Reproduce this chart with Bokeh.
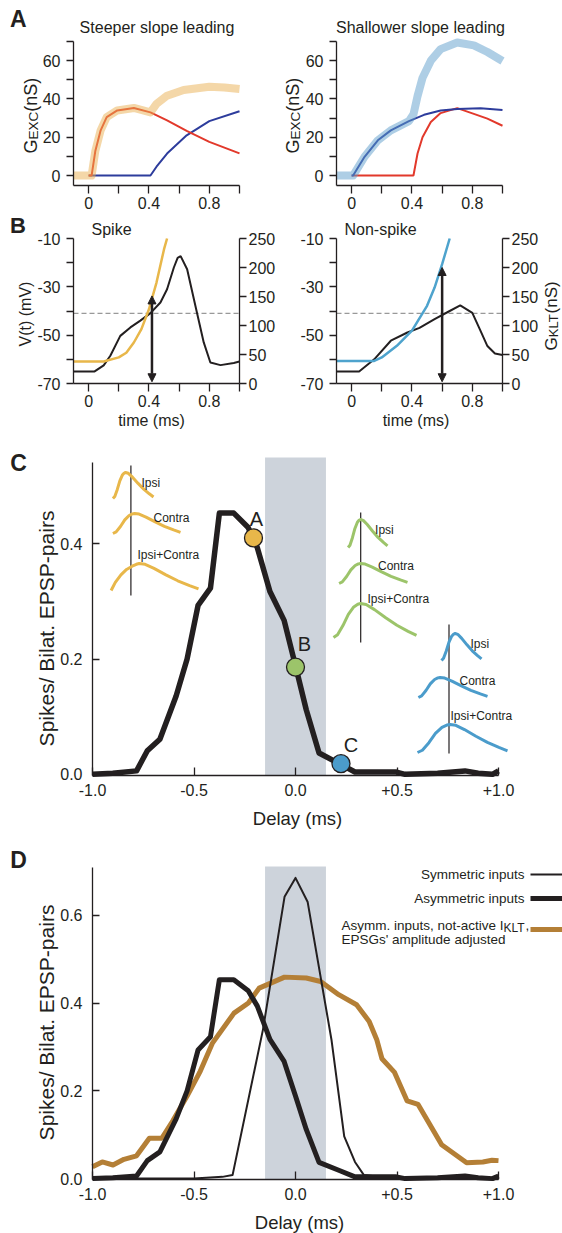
import math
from bokeh.plotting import figure
from bokeh.layouts import column, row
from bokeh.models import (Range1d, FixedTicker, CustomJSTickFormatter, LinearAxis, Label,
                          BoxAnnotation, Arrow, NormalHead)
from bokeh.embed import file_html
from bokeh.resources import INLINE

FONT = "Liberation Sans"
INK = "#231f20"

# ---------------- data ----------------
# Panel A, left: steeper slope leading (red = steep EPSG, blue = shallow EPSG, thick = sum)
A1_RED_T = [0.0, 0.02, 0.045, 0.08, 0.12, 0.19, 0.3, 0.41, 0.52, 0.65, 0.8, 1.0]
A1_RED_G = [0, 0, 13, 23.6, 30.5, 34, 35.3, 33, 28.8, 23.3, 17.6, 11.6]
A1_BLUE_T = [0.0, 0.41, 0.45, 0.52, 0.65, 0.8, 1.0]
A1_BLUE_G = [0, 0, 4.6, 11.5, 21, 28.4, 33.6]
A1_SUM_T = [-0.1, 0.02, 0.045, 0.08, 0.12, 0.19, 0.3, 0.41, 0.45, 0.52, 0.63, 0.8, 0.9, 1.0]
A1_SUM_G = [0, 0, 13, 23.6, 30.5, 34, 35.3, 33, 37.4, 41.7, 44.7, 46.4, 46.0, 45.2]
# Panel A, right: shallower slope leading
A2_BLUE_T = [0.0, 0.01, 0.086, 0.174, 0.26, 0.38, 0.48, 0.59, 0.7, 0.855, 1.0]
A2_BLUE_G = [0, 0, 9.8, 18.4, 23.6, 28.4, 31.7, 34, 34.8, 35.2, 34.2]
A2_RED_T = [0.0, 0.41, 0.437, 0.47, 0.525, 0.59, 0.7, 0.81, 0.9, 1.0]
A2_RED_G = [0, 0, 11.5, 20, 28, 32.6, 35.2, 32.2, 29.7, 26]
A2_SUM_T = [-0.1, 0.01, 0.086, 0.174, 0.26, 0.38, 0.41, 0.437, 0.47, 0.525, 0.59, 0.7, 0.81, 0.9, 1.0]
A2_SUM_G = [0, 0, 9.8, 18.4, 23.6, 28.4, 32, 41.5, 51, 60, 66, 69.5, 68, 64.5, 59.8]

# Panel B: membrane potential (mV) and G_KLT (nS)
B1_V_T = [-0.1, 0.04, 0.1, 0.144, 0.21, 0.277, 0.343, 0.41, 0.476, 0.52, 0.565, 0.59, 0.61,
          0.653, 0.708, 0.763, 0.807, 0.874, 0.962, 1.0]
B1_V = [-65, -65, -62.5, -58.5, -50.3, -46.8, -44, -40.9, -36.5, -31, -22, -18, -17.3,
        -22.7, -37.9, -53, -61.3, -62.4, -61.5, -60.9]
B1_G_T = [-0.1, 0.1, 0.2, 0.25, 0.3, 0.35, 0.4, 0.45, 0.5, 0.52]
B1_G = [38, 38, 45, 53, 70.7, 93.7, 128, 174, 231.6, 250]
B2_V_T = [-0.1, 0.05, 0.15, 0.26, 0.37, 0.45, 0.55, 0.65, 0.72, 0.8, 0.85, 0.9, 0.95, 1.0]
B2_V = [-65, -65, -60, -52.3, -48.9, -47, -43.4, -40, -37.7, -40.8, -47.6, -54.5, -57.6, -58.2]
B2_G_T = [-0.1, 0.15, 0.2, 0.3, 0.4, 0.5, 0.55, 0.6, 0.65]
B2_G = [39, 39, 45, 65, 91, 134, 165.5, 205.7, 250]
V_THRESHOLD = -41
ARROW_T = [0.42, 0.6]
ARROW_G_LOW = [3, 3]
ARROW_G_HIGH = [151, 200]

# Panel C / D: spikes per bilateral EPSP pair vs delay
ASYM_DELAY = [-1.0, -0.9, -0.783, -0.73, -0.668, -0.588, -0.534, -0.48, -0.419, -0.375, -0.304,
              -0.233, -0.188, -0.126, -0.056, 0.0, 0.053, 0.116, 0.213, 0.293, 0.497, 0.54, 0.7,
              0.835, 0.9, 0.97, 1.0]
ASYM_RATE = [0.0, 0.002, 0.006, 0.041, 0.061, 0.136, 0.2, 0.293, 0.323, 0.453, 0.453, 0.428,
             0.393, 0.317, 0.267, 0.188, 0.112, 0.037, 0.019, 0.004, 0.004, 0.0, 0.002, 0.006,
             0.002, 0.0, 0.006]
SYM_DELAY = [-1.0, -0.5, -0.36, -0.31, -0.16, -0.054, 0.0, 0.06, 0.177, 0.24, 0.293, 0.337, 0.5, 1.0]
SYM_RATE = [0.0, 0.0, 0.004, 0.008, 0.34, 0.642, 0.685, 0.63, 0.317, 0.096, 0.038, 0.008, 0.0, 0.0]
OFF_DELAY = [-1.0, -0.952, -0.899, -0.845, -0.783, -0.72, -0.659, -0.605, -0.534, -0.472, -0.41,
             -0.303, -0.232, -0.179, -0.054, 0.053, 0.124, 0.213, 0.301, 0.363, 0.4, 0.426,
             0.488, 0.55, 0.604, 0.72, 0.843, 0.923, 0.968, 1.0]
OFF_RATE = [0.027, 0.038, 0.031, 0.044, 0.052, 0.092, 0.092, 0.131, 0.188, 0.242, 0.308, 0.377,
            0.4, 0.434, 0.459, 0.457, 0.449, 0.419, 0.396, 0.358, 0.317, 0.273, 0.242, 0.177,
            0.169, 0.077, 0.036, 0.038, 0.042, 0.041]
BAND = [-0.15, 0.15]
MARK_DELAY = [-0.207, 0.0, 0.224]
MARK_RATE = [0.41, 0.186, 0.0185]
MARK_NAMES = ["A", "B", "C"]

# schematic EPSP templates for the insets (normalised time / amplitude)
RISE_F = [0.0, 0.15, 0.35, 0.55, 0.75, 0.9, 1.0]
RISE_V = [0.0, 0.08, 0.35, 0.68, 0.9, 0.98, 1.0]
SHOULDER_V = [0.0, 0.3, 0.58, 0.78, 0.9, 0.97, 1.0]
DECAY_F = [0.1, 0.25, 0.45, 0.65, 0.85, 1.0]
DECAY_V = [0.97, 0.82, 0.58, 0.36, 0.18, 0.06]
INSET_NAMES = ["Ipsi", "Contra", "Ipsi+Contra"]

# ---------------- colours ----------------
RED = "#e2392b"
BLUE = "#2d3c9c"
SUM_ORANGE = "#eab052"
SUM_BLUE = "#5d9ecb"
YELLOW = "#e8b74a"
CYAN = "#4ea3cd"
GREEN = "#9cc46a"
MBLUE = "#4b9ccb"
BAND_COLOR = "#cdd3db"
BROWN = "#b47f36"


class Panel:
    """A figure whose frame fills its whole canvas; the axes sit inside at fixed locations.
    (fx0, fx1, fy0, fy1) are the page pixels of the axis box, which spans xr x yr."""

    def __init__(self, x0, y0, w, h, fx0, fx1, fy0, fy1, xr, yr):
        self.fx0, self.fy0 = fx0, fy0
        self.xr, self.yr = xr, yr
        self.sx = (xr[1] - xr[0]) / (fx1 - fx0)
        self.sy = (yr[1] - yr[0]) / (fy1 - fy0)
        self.x0, self.y0, self.w, self.h, self.fy1 = x0, y0, w, h, fy1
        cx = (xr[0] - (fx0 - x0) * self.sx, xr[0] + (x0 + w - fx0) * self.sx)
        cy = (yr[0] - (y0 + h - fy1) * self.sy, yr[1] + (fy0 - y0) * self.sy)
        p = figure(width=w, height=h, x_range=Range1d(*cx), y_range=Range1d(*cy),
                   min_border_left=0, min_border_right=0, min_border_top=0,
                   min_border_bottom=0, output_backend="svg", toolbar_location=None,
                   title=None)
        p.outline_line_color = None
        p.grid.visible = False
        p.background_fill_color = "white"
        p.border_fill_color = "white"
        p.xaxis[0].fixed_location = yr[0]
        p.xaxis[0].bounds = xr
        p.yaxis[0].fixed_location = xr[0]
        p.yaxis[0].bounds = yr
        self.p = p

    def extra_range(self, name, lo, hi):
        s = (hi - lo) / (self.fy1 - self.fy0)
        self.p.extra_y_ranges = {name: Range1d(lo - (self.y0 + self.h - self.fy1) * s,
                                               hi + (self.fy0 - self.y0) * s)}

    def dx(self, px):
        return self.xr[0] + (px - self.fx0) * self.sx

    def dy(self, py):
        return self.yr[1] - (py - self.fy0) * self.sy

    def text(self, px, py, s, size, align="center", baseline="middle", angle=0.0,
             bold=False, color=INK):
        self.p.add_layout(Label(x=self.dx(px), y=self.dy(py), text=s, text_font=FONT,
                                text_font_size=f"{size}px", text_align=align,
                                text_baseline=baseline, angle=angle, text_color=color,
                                text_font_style="bold" if bold else "normal"))


def style_axis(ax, tin, tout, standoff, size=16):
    ax.axis_line_color = INK
    ax.axis_line_width = 1.3
    ax.major_tick_line_color = INK
    ax.major_tick_line_width = 1.3
    ax.minor_tick_line_color = INK
    ax.minor_tick_line_width = 1.3
    ax.major_tick_in = tin
    ax.major_tick_out = tout
    ax.minor_tick_in = tin
    ax.minor_tick_out = tout
    ax.major_label_standoff = standoff
    ax.major_label_text_font = FONT
    ax.major_label_text_font_size = f"{size}px"
    ax.major_label_text_color = INK


TIME_FMT = "return tick == 0 ? '0' : tick.toFixed(1);"
INT_FMT = "return tick.toFixed(0);"


def time_axes(pan, yt, ymt):
    p = pan.p
    style_axis(p.xaxis[0], 0, 8, 3)
    p.xaxis[0].ticker = FixedTicker(ticks=[0, 0.4, 0.8], minor_ticks=[0.2, 0.6, 1.0])
    p.xaxis[0].formatter = CustomJSTickFormatter(code=TIME_FMT)
    style_axis(p.yaxis[0], 0, 7, 6)
    p.yaxis[0].ticker = FixedTicker(ticks=yt, minor_ticks=ymt)
    p.yaxis[0].formatter = CustomJSTickFormatter(code=INT_FMT)


def sub_label(pan, px, py_bottom, main, sub, tail, big=18, small=13.5):
    # rotated "G_sub(nS)" built from pieces, reading bottom to top
    r = math.pi / 2
    gw = 0.778 * big
    sw = {"EXC": 2.056, "KLT": 1.834}[sub] * small
    pan.text(px, py_bottom, main, big, align="left", baseline="alphabetic", angle=r)
    pan.text(px + 2, py_bottom - gw, sub, small, align="left", baseline="alphabetic", angle=r)
    pan.text(px, py_bottom - gw - sw, tail, big, align="left", baseline="alphabetic", angle=r)


# ---------------- Panel A ----------------
A1 = Panel(0, 0, 270, 213, 73, 239, 41, 185, (-0.1, 1.0), (-5.2, 70))
A2 = Panel(270, 0, 292, 213, 336, 502, 41, 185, (-0.1, 1.0), (-5.2, 70))
for pan in (A1, A2):
    time_axes(pan, [0, 20, 40, 60], [10, 30, 50, 70])

A1.p.line(A1_BLUE_T, A1_BLUE_G, line_color=BLUE, line_width=2)
A1.p.line(A1_RED_T, A1_RED_G, line_color=RED, line_width=2)
A1.p.line(A1_SUM_T, A1_SUM_G, line_color=SUM_ORANGE, line_alpha=0.5, line_width=8,
          line_join="round")
A2.p.line(A2_RED_T, A2_RED_G, line_color=RED, line_width=2)
A2.p.line(A2_BLUE_T, A2_BLUE_G, line_color=BLUE, line_width=2)
A2.p.line(A2_SUM_T, A2_SUM_G, line_color=SUM_BLUE, line_alpha=0.5, line_width=8,
          line_join="round")

A1.text(17.8, 18.5, "A", 23, bold=True)
A1.text(156.5, 27, "Steeper slope leading", 16)
A2.text(420, 27, "Shallower slope leading", 16)
sub_label(A1, 30.5, 153, "G", "EXC", "(nS)")
sub_label(A2, 292.5, 153, "G", "EXC", "(nS)")

# ---------------- Panel B ----------------
B1 = Panel(0, 213, 281, 227, 73, 239, 238, 383, (-0.1, 1.0), (-70, -10))
B2 = Panel(281, 213, 281, 227, 336, 502, 238, 383, (-0.1, 1.0), (-70, -10))
for pan, vt, vv, gt, gv, col, i in ((B1, B1_V_T, B1_V, B1_G_T, B1_G, YELLOW, 0),
                                    (B2, B2_V_T, B2_V, B2_G_T, B2_G, CYAN, 1)):
    p = pan.p
    pan.extra_range("g", 0, 250)
    time_axes(pan, [-70, -50, -30, -10], [-60, -40, -20])
    rax = LinearAxis(y_range_name="g", ticker=FixedTicker(ticks=[0, 50, 100, 150, 200, 250]),
                     formatter=CustomJSTickFormatter(code=INT_FMT),
                     fixed_location=pan.xr[1], bounds=(0, 250))
    style_axis(rax, 0, 7, 2)
    p.add_layout(rax, "right")
    p.line([pan.xr[0], pan.xr[1]], [V_THRESHOLD, V_THRESHOLD], line_color="#999999",
           line_width=1.3, line_dash="5 3")
    p.line(vt, vv, line_color=INK, line_width=2)
    p.line(gt, gv, line_color=col, line_width=2.5, y_range_name="g")
    p.add_layout(Arrow(x_start=ARROW_T[i], y_start=ARROW_G_LOW[i], x_end=ARROW_T[i],
                       y_end=ARROW_G_HIGH[i], y_range_name="g", line_color=INK, line_width=2.5,
                       start=NormalHead(size=8, fill_color=INK, line_color=INK),
                       end=NormalHead(size=8, fill_color=INK, line_color=INK)))

B1.text(17.5, 225, "B", 22, bold=True)
B1.text(91, 229, "Spike", 16, align="left")
B2.text(344, 229, "Non-spike", 16, align="left")
B1.text(151, 420, "time (ms)", 16)
B2.text(415.5, 420, "time (ms)", 16)
B1.text(25, 313.5, "V(t) (mV)", 16, baseline="alphabetic", angle=math.pi / 2)
sub_label(B2, 551, 350, "G", "KLT", "(nS)", big=17, small=13)

# ---------------- Panel C ----------------
DELAY_FMT = "return (tick > 0 ? '+' : '') + tick.toFixed(1);"
RATE_FMT = "return tick.toFixed(1);"


def delay_axes(pan, ymax_axis, yt):
    p = pan.p
    style_axis(p.xaxis[0], 8, 0, 8)
    p.xaxis[0].ticker = FixedTicker(ticks=[-1.0, -0.5, 0.0, 0.5, 1.0])
    p.xaxis[0].formatter = CustomJSTickFormatter(code=DELAY_FMT)
    style_axis(p.yaxis[0], 7, 0, 10)
    p.yaxis[0].ticker = FixedTicker(ticks=yt)
    p.yaxis[0].formatter = CustomJSTickFormatter(code=RATE_FMT)
    p.yaxis[0].bounds = (pan.yr[0], ymax_axis)
    p.add_layout(BoxAnnotation(left=BAND[0], right=BAND[1], bottom=pan.yr[0], top=pan.yr[1],
                               fill_color=BAND_COLOR, fill_alpha=1.0, line_color=None,
                               level="underlay"))


C = Panel(0, 440, 562, 395, 92, 498, 457, 775, (-1.0, 1.0), (-0.002, 0.5494))
delay_axes(C, 0.5415, [0.0, 0.2, 0.4])
C.p.line(ASYM_DELAY, ASYM_RATE, line_color=INK, line_width=5.5, line_join="round")
C.p.scatter(x=MARK_DELAY, y=MARK_RATE, size=18, fill_color=[YELLOW, GREEN, MBLUE],
            line_color=INK, line_width=1.3)
for i, (ox, oy) in enumerate([(3, 19), (9, 23), (10, 19)]):
    C.p.add_layout(Label(x=MARK_DELAY[i], y=MARK_RATE[i], x_offset=ox, y_offset=oy,
                         text=MARK_NAMES[i], text_font=FONT, text_font_size="20px",
                         text_align="center", text_baseline="middle", text_color=INK))

# insets: (colour, vline x, vline top, vline bottom, traces (start, peak, end, base, top, shoulder), label spots)
INSETS = [
    (YELLOW, 130.4, 465, 595,
     [(112.4, 125, 153, 498, 472, False), (112.4, 134, 180, 533, 513, False),
      (110.6, 138.7, 198, 590, 563, True)],
     [(141, 482), (153, 517), (137, 554)]),
    (GREEN, 360.2, 512, 642,
     [(347.6, 360, 387, 547, 519, False), (338.6, 360, 407, 583, 563, False),
      (333, 360, 416, 637, 603, False)],
     [(374.6, 529), (377.5, 565), (367, 598)]),
    (MBLUE, 448.5, 624, 753,
     [(441, 454.6, 481, 660, 633, False), (417.9, 439.5, 487, 697, 677, False),
      (417, 449.6, 507, 752, 724, False)],
     [(470, 643), (459, 680), (450, 715)]),
]
for col, vx, vt, vb, traces, labs in INSETS:
    C.p.line([C.dx(vx), C.dx(vx)], [C.dy(vt), C.dy(vb)], line_color=INK, line_width=1.2)
    for (xs, xp, xe, yb, yt_, shoulder) in traces:
        rv = SHOULDER_V if shoulder else RISE_V
        xx = [xs + f * (xp - xs) for f in RISE_F] + [xp + f * (xe - xp) for f in DECAY_F]
        vv = list(rv) + list(DECAY_V)
        yy = [yb - v * (yb - yt_) for v in vv]
        C.p.line([C.dx(x) for x in xx], [C.dy(y) for y in yy], line_color=col, line_width=3,
                 line_join="round")
    for name, (lx, ly) in zip(INSET_NAMES, labs):
        C.text(lx, ly, name, 12, align="left")

C.text(18, 462.5, "C", 23, bold=True)
C.text(297, 818, "Delay (ms)", 18.5)
C.text(46, 628, "Spikes/ Bilat. EPSP-pairs", 21, baseline="alphabetic", angle=math.pi / 2)

# ---------------- Panel D ----------------
D = Panel(0, 835, 562, 398, 92, 498, 866, 1179, (-1.0, 1.0), (-0.002, 0.711))
delay_axes(D, 0.7096, [0.0, 0.2, 0.4, 0.6])
D.p.line(OFF_DELAY, OFF_RATE, line_color=BROWN, line_width=5, line_join="round")
D.p.line(SYM_DELAY, SYM_RATE, line_color=INK, line_width=2, line_join="round")
D.p.line(ASYM_DELAY, ASYM_RATE, line_color=INK, line_width=5, line_join="round")

# legend (text left of swatch, as in the original)
D.text(524, 874, "Symmetric inputs", 13.5, align="right")
D.text(524, 898, "Asymmetric inputs", 13.5, align="right")
D.text(341, 924.5, "Asymm. inputs, not-active I", 13.5, align="left", baseline="alphabetic")
D.text(503, 927.5, "KLT", 12, align="left", baseline="alphabetic")
D.text(525, 924.5, ",", 13.5, align="left", baseline="alphabetic")
D.text(341, 939, "EPSGs' amplitude adjusted", 13.5, align="left")
for yy, lw, col in ((874, 2, INK), (898, 5, INK), (929, 5, BROWN)):
    D.p.line([D.dx(530), D.dx(566)], [D.dy(yy), D.dy(yy)], line_color=col, line_width=lw)

D.text(18, 859, "D", 23, bold=True)
D.text(299, 1222, "Delay (ms)", 18.5)
D.text(46, 1022, "Spikes/ Bilat. EPSP-pairs", 21, baseline="alphabetic", angle=math.pi / 2)

layout = column(row(A1.p, A2.p), row(B1.p, B2.p), C.p, D.p)
open("out.html", "w").write(file_html(layout, INLINE))
